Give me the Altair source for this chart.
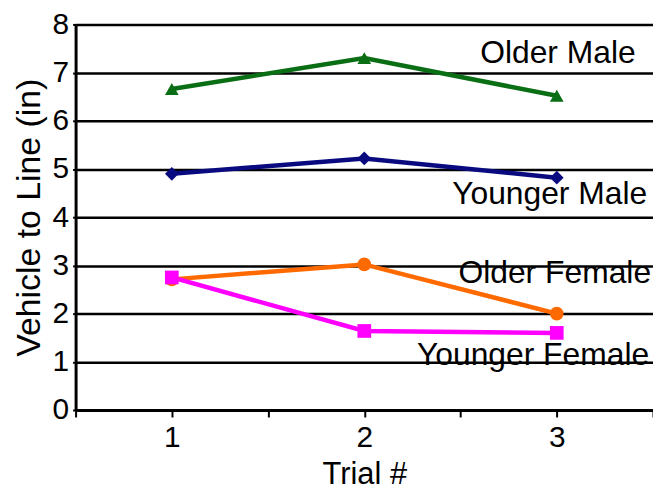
import altair as alt
import pandas as pd

trials = [1, 2, 3]
older_male = [6.66, 7.3, 6.52]
younger_male = [4.9, 5.22, 4.82]
older_female = [2.71, 3.02, 2.0]
younger_female = [2.75, 1.64, 1.6]

series_names = ["Older Male", "Younger Male", "Older Female", "Younger Female"]
series_values = [older_male, younger_male, older_female, younger_female]
colors = ["#0a6e14", "#0a0a80", "#ff6a00", "#ff00ff"]
shapes = ["triangle-up", "diamond", "circle", "square"]

label_x = [3.41, 3.47, 3.49, 3.48]
label_y = [7.41, 4.47, 2.85, 1.13]

rows = []
for name, vals in zip(series_names, series_values):
    for t, v in zip(trials, vals):
        rows.append({"series": name, "trial": t, "value": v})
df = pd.DataFrame(rows)
labels = pd.DataFrame({"series": series_names, "x": label_x, "y": label_y})

x_ticks = [0.5, 1, 1.5, 2, 2.5, 3, 3.5]
FONT = "Liberation Sans"

xscale = alt.Scale(domain=[0.5, 3.5], nice=False, zero=False)
yscale = alt.Scale(domain=[0, 8], nice=False)
color = alt.Color("series:N", scale=alt.Scale(domain=series_names, range=colors), legend=None)

base = alt.Chart(df)
lines = base.mark_line(strokeWidth=4.5).encode(
    x=alt.X("trial:Q", scale=xscale, title="Trial #",
            axis=alt.Axis(values=x_ticks,
                          labelExpr="datum.value % 1 == 0 ? format(datum.value, 'd') : ''",
                          grid=False, tickSize=7, tickWidth=2, tickColor="black",
                          domainColor="black", domainWidth=3, labelFontSize=30,
                          titleFontSize=31, labelFont=FONT, titleFont=FONT,
                          titleFontWeight="normal", labelColor="black", titleColor="black",
                          labelPadding=6, titlePadding=7)),
    y=alt.Y("value:Q", scale=yscale, title="Vehicle to Line (in)",
            axis=alt.Axis(values=list(range(0, 9)), grid=True, gridColor="black", gridWidth=2.5,
                          tickSize=3, tickWidth=2, tickColor="black", domainColor="black",
                          domainWidth=3, labelFontSize=30, titleFontSize=34, labelFont=FONT,
                          titleFont=FONT, titleFontWeight="normal", labelColor="black",
                          titleColor="black", labelPadding=4, titlePadding=6)),
    color=color,
    detail="series:N",
)
points = base.mark_point(filled=True, size=190, opacity=1).encode(
    x=alt.X("trial:Q", scale=xscale),
    y=alt.Y("value:Q", scale=yscale),
    color=color,
    shape=alt.Shape("series:N", scale=alt.Scale(domain=series_names, range=shapes), legend=None),
)
texts = alt.Chart(labels).mark_text(align="right", baseline="middle", fontSize=32,
                                    font=FONT, color="black").encode(
    x=alt.X("x:Q", scale=xscale),
    y=alt.Y("y:Q", scale=yscale),
    text="series:N",
)

chart = alt.layer(lines, points, texts).properties(
    width=581, height=388,
    autosize=alt.AutoSizeParams(type="none"),
    padding={"left": 68, "top": 15, "right": 0, "bottom": 82},
).configure_view(stroke="#999999", strokeWidth=2).configure(background="white")

chart.save("out.html", embed_options={"renderer": "svg", "actions": False})
